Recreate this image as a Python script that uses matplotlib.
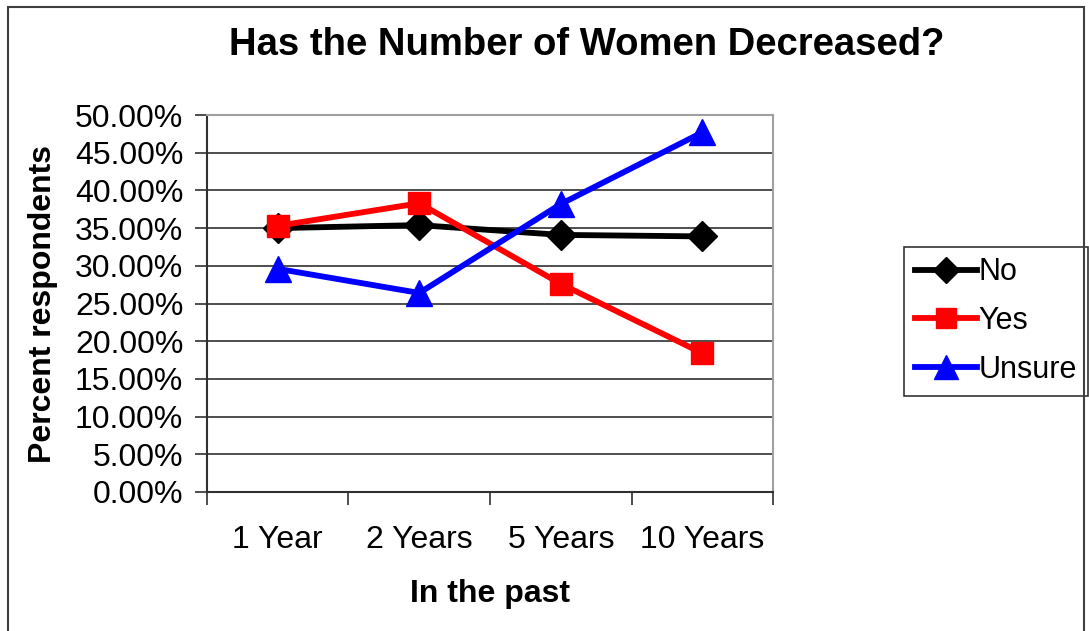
import matplotlib.pyplot as plt
import matplotlib.patches as patches
from matplotlib.ticker import FuncFormatter, FixedLocator

plt.rcParams['font.family'] = ['Liberation Sans', 'DejaVu Sans']

periods = ["1 Year", "2 Years", "5 Years", "10 Years"]
no = [35.0, 35.4, 34.1, 33.9]
yes = [35.3, 38.3, 27.6, 18.4]
unsure = [29.6, 26.4, 38.2, 47.7]

fig = plt.figure(figsize=(10.89, 6.31), dpi=100)
ax = fig.add_axes([0.190, 0.2203, 0.520, 0.5974])

# chart border
fig.patches.append(patches.Rectangle((0.0075, -0.01), 0.988, 0.999, transform=fig.transFigure,
                                     fill=False, edgecolor='#404040', linewidth=1.5))

x = range(len(periods))
ax.plot(x, no, color='black', lw=4.2, marker='D', ms=15, label='No', clip_on=False)
ax.plot(x, yes, color='red', lw=4.2, marker='s', ms=16, label='Yes', clip_on=False)
ax.plot(x, unsure, color='blue', lw=4.2, marker='^', ms=19, label='Unsure', clip_on=False)

ax.set_xlim(-0.5, 3.5)
ax.set_ylim(0, 50)
ax.set_yticks(range(0, 51, 5))
ax.yaxis.set_major_formatter(FuncFormatter(lambda v, p: f"{v:.2f}%"))
ax.grid(axis='y', color='#303030', lw=1.2)
ax.set_axisbelow(True)

ax.set_xticks(list(x))
ax.set_xticklabels(periods)
ax.xaxis.set_minor_locator(FixedLocator([-0.5, 0.5, 1.5, 2.5, 3.5]))
ax.tick_params(axis='x', which='major', length=0, pad=24, labelsize=23)
ax.tick_params(axis='x', which='minor', length=9, width=1.2, color='#303030')
ax.tick_params(axis='y', length=9, width=1.2, color='#303030', labelsize=23, pad=8)

for side in ['top', 'right']:
    ax.spines[side].set_color('#a0a0a0')
    ax.spines[side].set_linewidth(1.5)
for side in ['left', 'bottom']:
    ax.spines[side].set_color('#303030')
    ax.spines[side].set_linewidth(1.5)

ax.set_xlabel("In the past", fontsize=23, fontweight='bold', labelpad=17)
ax.set_ylabel("Percent respondents", fontsize=23, fontweight='bold', labelpad=12)
fig.text(0.539, 0.929, "Has the Number of Women Decreased?", ha='center', va='center',
         fontsize=27.5, fontweight='bold')

leg = ax.legend(loc='center left', bbox_to_anchor=(0.830, 0.491), bbox_transform=fig.transFigure,
                fontsize=22, frameon=True, fancybox=False, edgecolor='black',
                handlelength=2.05, handletextpad=0.05, borderpad=0.35, labelspacing=0.62,
                borderaxespad=0, markerscale=0.9)
leg.get_frame().set_linewidth(1.2)

fig.savefig("out.png", dpi=100)
